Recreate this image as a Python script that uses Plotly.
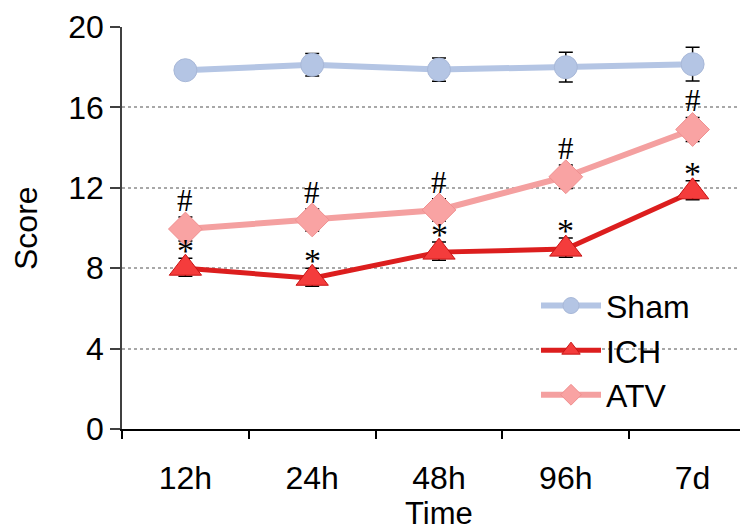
import plotly.graph_objects as go

categories = ["12h", "24h", "48h", "96h", "7d"]
sham = [17.85, 18.12, 17.88, 18.0, 18.15]
sham_err = [0.3, 0.56, 0.58, 0.74, 0.84]
ich = [8.0, 7.5, 8.8, 8.95, 11.8]
ich_err = [0.5, 0.5, 0.5, 0.55, 0.55]
atv = [9.95, 10.4, 10.9, 12.55, 14.9]
atv_err = [0.6, 0.55, 0.55, 0.58, 0.6]
y_ticks = [0, 4, 8, 12, 16, 20]

fig = go.Figure()

def add(name, y, err, color, lcolor, symbol, size, lw, mline, err_minus=None):
    fig.add_trace(go.Scatter(
        x=categories, y=y, name=name, mode="lines+markers",
        line=dict(color=lcolor, width=lw),
        marker=dict(symbol=symbol, size=size, color=color, line=dict(color=mline, width=1)),
        error_y=dict(type="data", array=err, arrayminus=err_minus if err_minus else err,
                     visible=True, color="black", thickness=1.5, width=7),
    ))

add("Sham", sham, sham_err, "#b4c5e4", "#b4c5e4", "circle", 23, 6, "#a8b8d8")
add("ICH", ich, ich_err, "#f43c3c", "#dc1e1e", "triangle-up", 28, 5, "#c81414",
    err_minus=[0.4, 0.4, 0.4, 0.4, 0.4])
add("ATV", atv, atv_err, "#f9a3a3", "#f4a0a0", "diamond", 26, 6, "#f09090")

annots = []
for c, v, e in zip(categories, atv, atv_err):
    annots.append(dict(x=c, y=v + e, text="#", showarrow=False, yanchor="bottom",
                       yshift=-3, font=dict(family="Liberation Serif", size=31, color="black")))
for c, v, e in zip(categories, ich, ich_err):
    annots.append(dict(x=c, y=v + e, text="*", showarrow=False, yanchor="bottom",
                       yshift=-13, font=dict(family="Liberation Serif", size=34, color="black")))
annots.append(dict(x=2, y=0, yref="y", text="Time", showarrow=False, yanchor="top",
                   yshift=-66, borderpad=0,
                   font=dict(family="Liberation Sans", size=31, color="black")))
annots.append(dict(x=0, xref="paper", xanchor="center", xshift=-96, y=10, text="Score",
                   textangle=-90, showarrow=False,
                   font=dict(family="Liberation Sans", size=32, color="black")))

# note: the page body adds an 8px offset, margins compensate for it
fig.update_layout(
    width=748, height=529,
    margin=dict(l=114, r=0, t=19, b=108),
    plot_bgcolor="white", paper_bgcolor="white",
    font=dict(family="Liberation Sans", size=32, color="black"),
    showlegend=True,
    legend=dict(x=0.653, y=0.375, xanchor="left", yanchor="top", bgcolor="rgba(0,0,0,0)",
                font=dict(size=32), tracegroupgap=0, itemwidth=60),
    annotations=annots,
)
fig.update_xaxes(
    type="category", range=[-0.5, 4.5], tickson="boundaries", automargin=False,
    ticks="outside", ticklen=8, tickwidth=2, tickcolor="black",
    showline=True, linecolor="black", linewidth=2, showgrid=False,
    tickfont=dict(size=32), ticklabelstandoff=20,
)
fig.update_yaxes(
    range=[0, 20], tickvals=y_ticks, ticks="outside", ticklen=10, tickwidth=1.5,
    tickcolor="#404040", showline=True, linecolor="#404040", linewidth=1.5,
    showgrid=True, gridcolor="#a8a8a8", griddash="dot", gridwidth=1.5, automargin=False,
    zeroline=False, tickfont=dict(size=32), ticksuffix="\u2009",
)

fig.write_html("out.html")
